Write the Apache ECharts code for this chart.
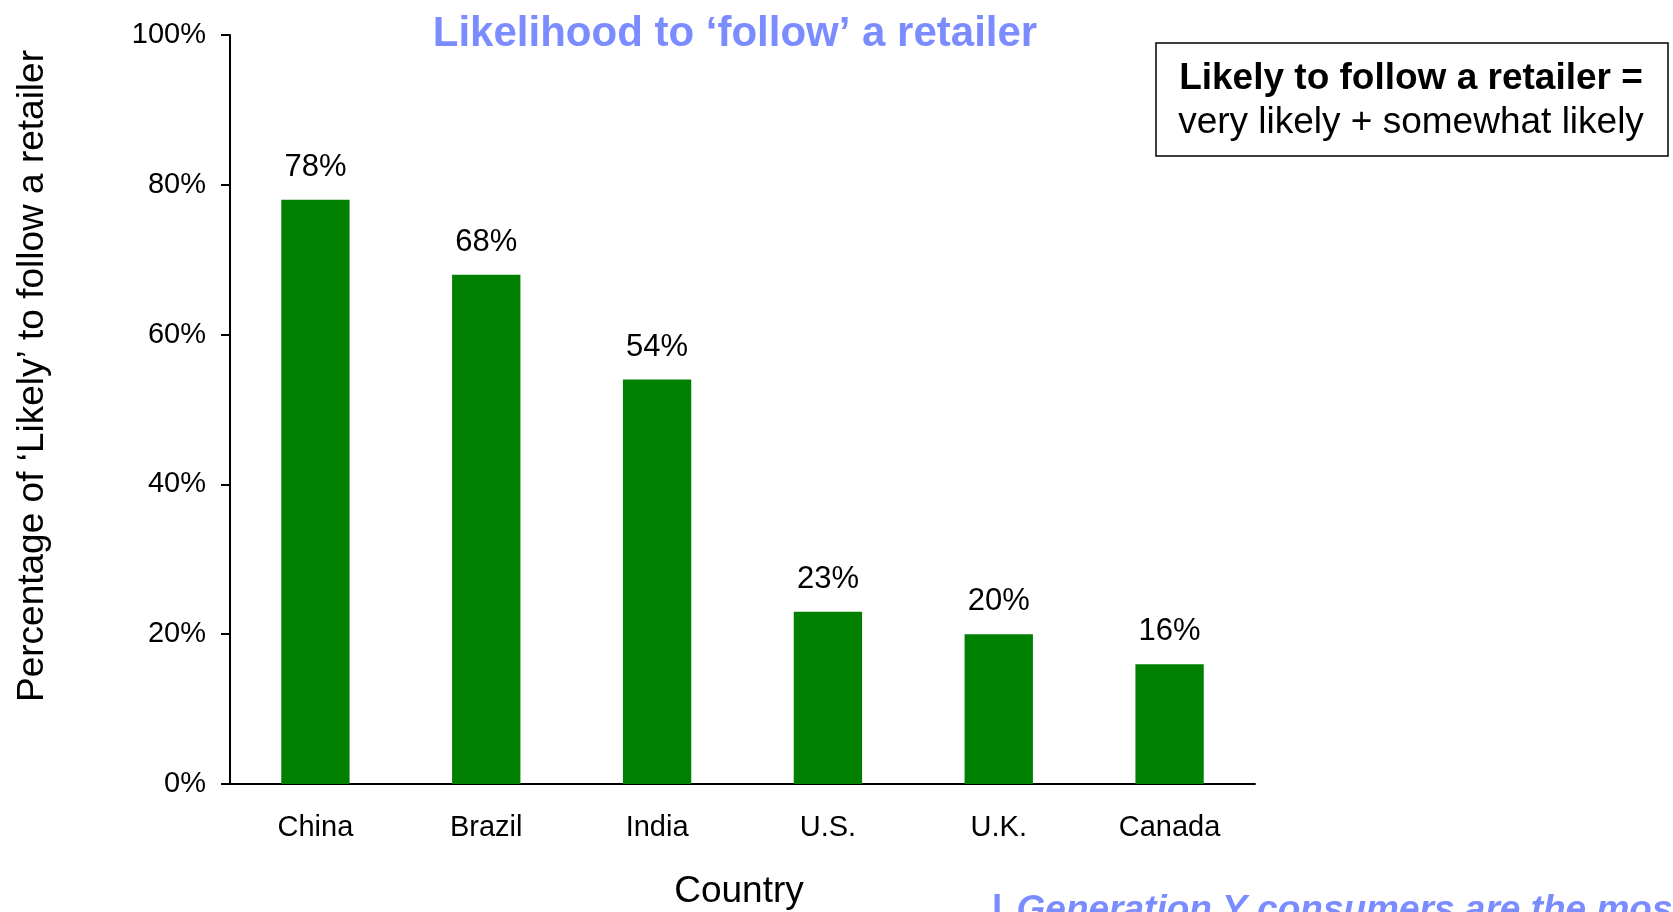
<!DOCTYPE html>
<html>
<head>
<meta charset="utf-8">
<title>Likelihood to follow a retailer</title>
<script src="https://cdn.jsdelivr.net/npm/echarts@6/dist/echarts.min.js"></script>
<style>
  html, body { margin: 0; padding: 0; background: #ffffff; }
  #chart { width: 1673px; height: 912px; }
</style>
</head>
<body>
<div id="chart"></div>
<script>
// Share of respondents "likely" to follow a retailer, by country
const countries = ['China', 'Brazil', 'India', 'U.S.', 'U.K.', 'Canada'];
const likelyShare = [78, 68, 54, 23, 20, 16];
const yTicks = { min: 0, max: 100, step: 20 };

const FONT = '"Liberation Sans", Arial, Helvetica, sans-serif';
const BLUE = '#7b8cff';
const GREEN = '#008000';

const chart = echarts.init(document.getElementById('chart'), null, { renderer: 'canvas' });

chart.setOption({
  backgroundColor: '#ffffff',
  animation: false,
  textStyle: { fontFamily: FONT },
  title: {
    text: 'Likelihood to \u2018follow\u2019 a retailer',
    left: 730,
    top: 8,
    textAlign: 'center',
    textStyle: { fontFamily: FONT, fontSize: 42, fontWeight: 'bold', color: BLUE }
  },
  grid: { left: 230, right: 418, top: 35, bottom: 128, containLabel: false },
  xAxis: {
    type: 'category',
    data: countries,
    axisLine: { show: true, lineStyle: { color: '#000', width: 2 } },
    axisTick: { show: false },
    axisLabel: { color: '#000', fontSize: 29, margin: 29, fontFamily: FONT },
    splitLine: { show: false }
  },
  yAxis: {
    type: 'value',
    min: yTicks.min,
    max: yTicks.max,
    interval: yTicks.step,
    axisLine: { show: true, lineStyle: { color: '#000', width: 2 } },
    axisTick: { show: true, inside: false, length: 9, lineStyle: { color: '#000', width: 2 } },
    axisLabel: { color: '#000', fontSize: 29, margin: 24, fontFamily: FONT, formatter: '{value}%' },
    splitLine: { show: false }
  },
  series: [{
    type: 'bar',
    data: likelyShare,
    barWidth: '40%',
    itemStyle: { color: GREEN },
    label: {
      show: true,
      position: 'top',
      distance: 17,
      formatter: '{c}%',
      color: '#000',
      fontSize: 31,
      fontFamily: FONT
    }
  }],
  graphic: [
    {
      type: 'text',
      x: 33, y: 376,
      rotation: Math.PI / 2,
      style: {
        text: 'Percentage of \u2018Likely\u2019 to follow a retailer',
        fontSize: 37, fontFamily: FONT, fill: '#000',
        align: 'center', verticalAlign: 'middle'
      }
    },
    {
      type: 'text',
      x: 739, y: 892,
      style: {
        text: 'Country',
        fontSize: 37, fontFamily: FONT, fill: '#000',
        align: 'center', verticalAlign: 'middle'
      }
    },
    {
      type: 'rect',
      shape: { x: 1156, y: 43, width: 512, height: 113 },
      style: { fill: '#ffffff', stroke: '#000', lineWidth: 1.5 }
    },
    {
      type: 'text',
      x: 1411, y: 79,
      style: {
        text: 'Likely to follow a retailer =',
        fontSize: 37, fontWeight: 'bold', fontFamily: FONT, fill: '#000',
        align: 'center', verticalAlign: 'middle'
      }
    },
    {
      type: 'text',
      x: 1411, y: 123,
      style: {
        text: 'very likely + somewhat likely',
        fontSize: 37, fontFamily: FONT, fill: '#000',
        align: 'center', verticalAlign: 'middle'
      }
    },
    {
      type: 'text',
      x: 992, y: 911,
      style: {
        text: '{b|l} {i|Generation Y consumers are the most}',
        fontSize: 37, fontFamily: FONT, fill: BLUE,
        align: 'left', verticalAlign: 'middle',
        rich: {
          b: { fontSize: 37, fontWeight: 'bold', fontFamily: FONT, fill: BLUE, color: BLUE, padding: [0, 4, 0, 0] },
          i: { fontSize: 37, fontWeight: 'bold', fontStyle: 'italic', fontFamily: FONT, fill: BLUE, color: BLUE }
        }
      }
    }
  ]
});
</script>
</body>
</html>
